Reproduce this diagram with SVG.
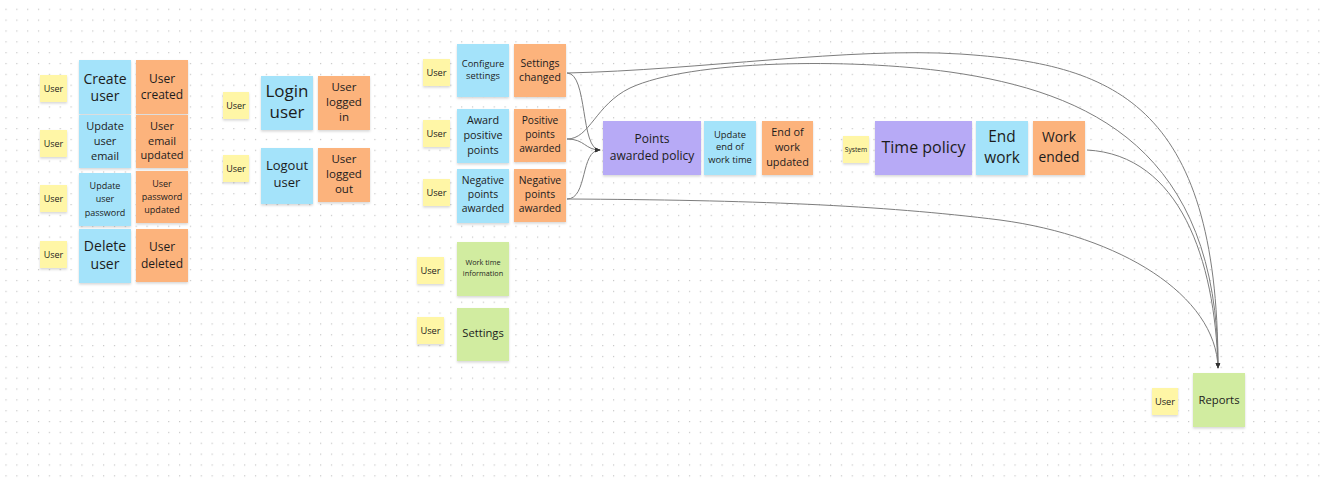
<svg xmlns="http://www.w3.org/2000/svg" width="1320" height="485" viewBox="0 0 1320 485">
  <defs>
    <pattern id="dots" width="10.85" height="10.85" patternUnits="userSpaceOnUse" x="5.4" y="8.7">
      <rect x="0" y="0" width="1.2" height="1.2" fill="#c6c6c6"/>
    </pattern>
    <filter id="shadow" x="-20%" y="-20%" width="140%" height="150%">
      <feDropShadow dx="0" dy="1.5" stdDeviation="1.2" flood-color="#000" flood-opacity="0.16"/>
    </filter>
    <marker id="arrow" viewBox="0 0 10 10" refX="9" refY="5" markerWidth="6" markerHeight="6" orient="auto" markerUnits="userSpaceOnUse">
      <path d="M0,1 L10,5 L0,9 z" fill="#333"/>
    </marker>
    <style>
      .sticky { filter: url(#shadow); }
      .yellow { fill: #fff6a6; }
      .blue { fill: #a4e3fa; }
      .orange { fill: #fcb37b; }
      .purple { fill: #b7aaf6; }
      .green { fill: #d1eca0; }
      text { font-family: "Open Sans", "Noto Sans", sans-serif; fill: #1c1c1c; text-anchor: middle; }
      .edge { fill: none; stroke: #7d7d7d; stroke-width: 1; }
    </style>
  </defs>

  <rect width="1320" height="485" fill="#ffffff"/>
  <rect width="1320" height="485" fill="url(#dots)"/>

  <!-- connectors -->
  <g id="connectors">
    <path class="edge" d="M567,73 C588,73 580,150 600,150" marker-end="url(#arrow)"/>
    <path class="edge" d="M567,139 C585,139 585,150 600,150" marker-end="url(#arrow)"/>
    <path class="edge" d="M567,199 C588,199 580,150 600,150" marker-end="url(#arrow)"/>
    <path class="edge" d="M567,73 C700,70 850,47 960,54 C1110,64 1218,100 1218,368" marker-end="url(#arrow)"/>
    <path class="edge" d="M567,139 C590,139 595,105 630,88 C690,60 850,58 950,72 C1090,92 1218,150 1218,368" marker-end="url(#arrow)"/>
    <path class="edge" d="M567,199 C750,200 880,205 1000,220 C1120,236 1216,295 1218,368" marker-end="url(#arrow)"/>
    <path class="edge" d="M1087,150 C1180,155 1215,260 1218,368" marker-end="url(#arrow)"/>
  </g>

  <!-- user management -->
  <g id="actor-create"><rect class="sticky yellow" x="40" y="75" width="27" height="27"/><text x="53.5" y="91.5" font-size="9">User</text></g>
  <g id="cmd-create-user"><rect class="sticky blue" x="79" y="60" width="52" height="54"/><text x="105" font-size="14"><tspan x="105" y="83.5">Create</tspan><tspan x="105" y="100.5">user</tspan></text></g>
  <g id="evt-user-created"><rect class="sticky orange" x="136" y="60" width="52" height="54"/><text font-size="12"><tspan x="162" y="82.5">User</tspan><tspan x="162" y="98.5">created</tspan></text></g>

  <g id="actor-email"><rect class="sticky yellow" x="40" y="130" width="27" height="27"/><text x="53.5" y="146.5" font-size="9">User</text></g>
  <g id="cmd-update-email"><rect class="sticky blue" x="79" y="115" width="52" height="53"/><text font-size="11"><tspan x="105" y="130">Update</tspan><tspan x="105" y="145">user</tspan><tspan x="105" y="160">email</tspan></text></g>
  <g id="evt-email-updated"><rect class="sticky orange" x="136" y="115" width="52" height="53"/><text font-size="11"><tspan x="162" y="130">User</tspan><tspan x="162" y="144.5">email</tspan><tspan x="162" y="159">updated</tspan></text></g>

  <g id="actor-password"><rect class="sticky yellow" x="40" y="185" width="27" height="27"/><text x="53.5" y="201.5" font-size="9">User</text></g>
  <g id="cmd-update-password"><rect class="sticky blue" x="79" y="173" width="52" height="53"/><text font-size="9"><tspan x="105" y="189">Update</tspan><tspan x="105" y="202.3">user</tspan><tspan x="105" y="215.5">password</tspan></text></g>
  <g id="evt-password-updated"><rect class="sticky orange" x="136" y="171" width="52" height="52"/><text font-size="9"><tspan x="162" y="187.3">User</tspan><tspan x="162" y="200">password</tspan><tspan x="162" y="212.7">updated</tspan></text></g>

  <g id="actor-delete"><rect class="sticky yellow" x="40" y="241" width="27" height="27"/><text x="53.5" y="257.5" font-size="9">User</text></g>
  <g id="cmd-delete-user"><rect class="sticky blue" x="79" y="229" width="52" height="54"/><text font-size="14"><tspan x="105" y="251">Delete</tspan><tspan x="105" y="269">user</tspan></text></g>
  <g id="evt-user-deleted"><rect class="sticky orange" x="136" y="229" width="52" height="53"/><text font-size="12"><tspan x="162" y="251">User</tspan><tspan x="162" y="267.5">deleted</tspan></text></g>

  <!-- session -->
  <g id="actor-login"><rect class="sticky yellow" x="223" y="92" width="26" height="27"/><text x="236" y="108.5" font-size="9">User</text></g>
  <g id="cmd-login-user"><rect class="sticky blue" x="261" y="76" width="52" height="54"/><text font-size="17"><tspan x="287" y="97.3">Login</tspan><tspan x="287" y="118.3">user</tspan></text></g>
  <g id="evt-logged-in"><rect class="sticky orange" x="318" y="76" width="52" height="54"/><text font-size="11.5"><tspan x="344" y="90.7">User</tspan><tspan x="344" y="105.7">logged</tspan><tspan x="344" y="120.7">in</tspan></text></g>

  <g id="actor-logout"><rect class="sticky yellow" x="223" y="155" width="26" height="27"/><text x="236" y="171.5" font-size="9">User</text></g>
  <g id="cmd-logout-user"><rect class="sticky blue" x="261" y="148" width="52" height="56"/><text font-size="13"><tspan x="287" y="170">Logout</tspan><tspan x="287" y="186.7">user</tspan></text></g>
  <g id="evt-logged-out"><rect class="sticky orange" x="318" y="148" width="52" height="54"/><text font-size="11.5"><tspan x="344" y="163.3">User</tspan><tspan x="344" y="178.3">logged</tspan><tspan x="344" y="193">out</tspan></text></g>

  <!-- settings and points -->
  <g id="actor-configure"><rect class="sticky yellow" x="423" y="59" width="27" height="27"/><text x="436.5" y="75.5" font-size="9.3">User</text></g>
  <g id="cmd-configure-settings"><rect class="sticky blue" x="457" y="44" width="52" height="53"/><text font-size="9.3"><tspan x="483" y="66.7">Configure</tspan><tspan x="483" y="78.7">settings</tspan></text></g>
  <g id="evt-settings-changed"><rect class="sticky orange" x="514" y="44" width="52" height="53"/><text font-size="10.5"><tspan x="540" y="67.3">Settings</tspan><tspan x="540" y="80.7">changed</tspan></text></g>

  <g id="actor-award"><rect class="sticky yellow" x="423" y="120" width="27" height="27"/><text x="436.5" y="136.5" font-size="9.3">User</text></g>
  <g id="cmd-award-positive"><rect class="sticky blue" x="457" y="109" width="52" height="54"/><text font-size="10.8"><tspan x="483" y="124.3">Award</tspan><tspan x="483" y="139">positive</tspan><tspan x="483" y="153.5">points</tspan></text></g>
  <g id="evt-positive-awarded"><rect class="sticky orange" x="514" y="109" width="52" height="53"/><text font-size="10.2"><tspan x="540" y="124.3">Positive</tspan><tspan x="540" y="138.3">points</tspan><tspan x="540" y="152.3">awarded</tspan></text></g>

  <g id="actor-negative"><rect class="sticky yellow" x="423" y="179" width="27" height="27"/><text x="436.5" y="195.5" font-size="9.3">User</text></g>
  <g id="cmd-negative-points"><rect class="sticky blue" x="457" y="169" width="52" height="54"/><text font-size="10.4"><tspan x="483" y="184.3">Negative</tspan><tspan x="483" y="198.3">points</tspan><tspan x="483" y="212.3">awarded</tspan></text></g>
  <g id="evt-negative-awarded"><rect class="sticky orange" x="514" y="169" width="52" height="53"/><text font-size="10.4"><tspan x="540" y="184.3">Negative</tspan><tspan x="540" y="198.3">points</tspan><tspan x="540" y="212.3">awarded</tspan></text></g>

  <g id="actor-work-time"><rect class="sticky yellow" x="417" y="257" width="27" height="27"/><text x="430.5" y="273.5" font-size="9.3">User</text></g>
  <g id="view-work-time"><rect class="sticky green" x="457" y="242" width="52" height="54"/><text font-size="7.3"><tspan x="483" y="265">Work time</tspan><tspan x="483" y="276">information</tspan></text></g>

  <g id="actor-settings"><rect class="sticky yellow" x="417" y="317" width="27" height="27"/><text x="430.5" y="333.5" font-size="9.3">User</text></g>
  <g id="view-settings"><rect class="sticky green" x="457" y="308" width="52" height="53"/><text x="483" y="337" font-size="11.2">Settings</text></g>

  <!-- policies -->
  <g id="policy-points-awarded"><rect class="sticky purple" x="603" y="121" width="98" height="54"/><text font-size="12"><tspan x="652" y="143">Points</tspan><tspan x="652" y="159.5">awarded policy</tspan></text></g>
  <g id="cmd-update-end"><rect class="sticky blue" x="704" y="121" width="52" height="54"/><text font-size="9.4"><tspan x="730" y="137.7">Update</tspan><tspan x="730" y="150.3">end of</tspan><tspan x="730" y="162.8">work time</tspan></text></g>
  <g id="evt-end-updated"><rect class="sticky orange" x="762" y="121" width="51" height="54"/><text font-size="10.9"><tspan x="787.5" y="136.3">End of</tspan><tspan x="787.5" y="151">work</tspan><tspan x="787.5" y="165.7">updated</tspan></text></g>

  <g id="actor-system"><rect class="sticky yellow" x="843" y="136" width="26" height="27"/><text x="856" y="151.5" font-size="6.7">System</text></g>
  <g id="policy-time"><rect class="sticky purple" x="875" y="121" width="97" height="54"/><text x="923.5" y="153" font-size="16">Time policy</text></g>
  <g id="cmd-end-work"><rect class="sticky blue" x="976" y="121" width="52" height="54"/><text font-size="15.4"><tspan x="1002" y="141.5">End</tspan><tspan x="1002" y="163.3">work</tspan></text></g>
  <g id="evt-work-ended"><rect class="sticky orange" x="1033" y="121" width="52" height="54"/><text font-size="13.8"><tspan x="1059" y="142.3">Work</tspan><tspan x="1059" y="161.7">ended</tspan></text></g>

  <!-- reports -->
  <g id="actor-reports"><rect class="sticky yellow" x="1152" y="388" width="26" height="27"/><text x="1165" y="404.5" font-size="9.3">User</text></g>
  <g id="view-reports"><rect class="sticky green" x="1193" y="373" width="52" height="54"/><text x="1219" y="403.5" font-size="11.3">Reports</text></g>
</svg>
